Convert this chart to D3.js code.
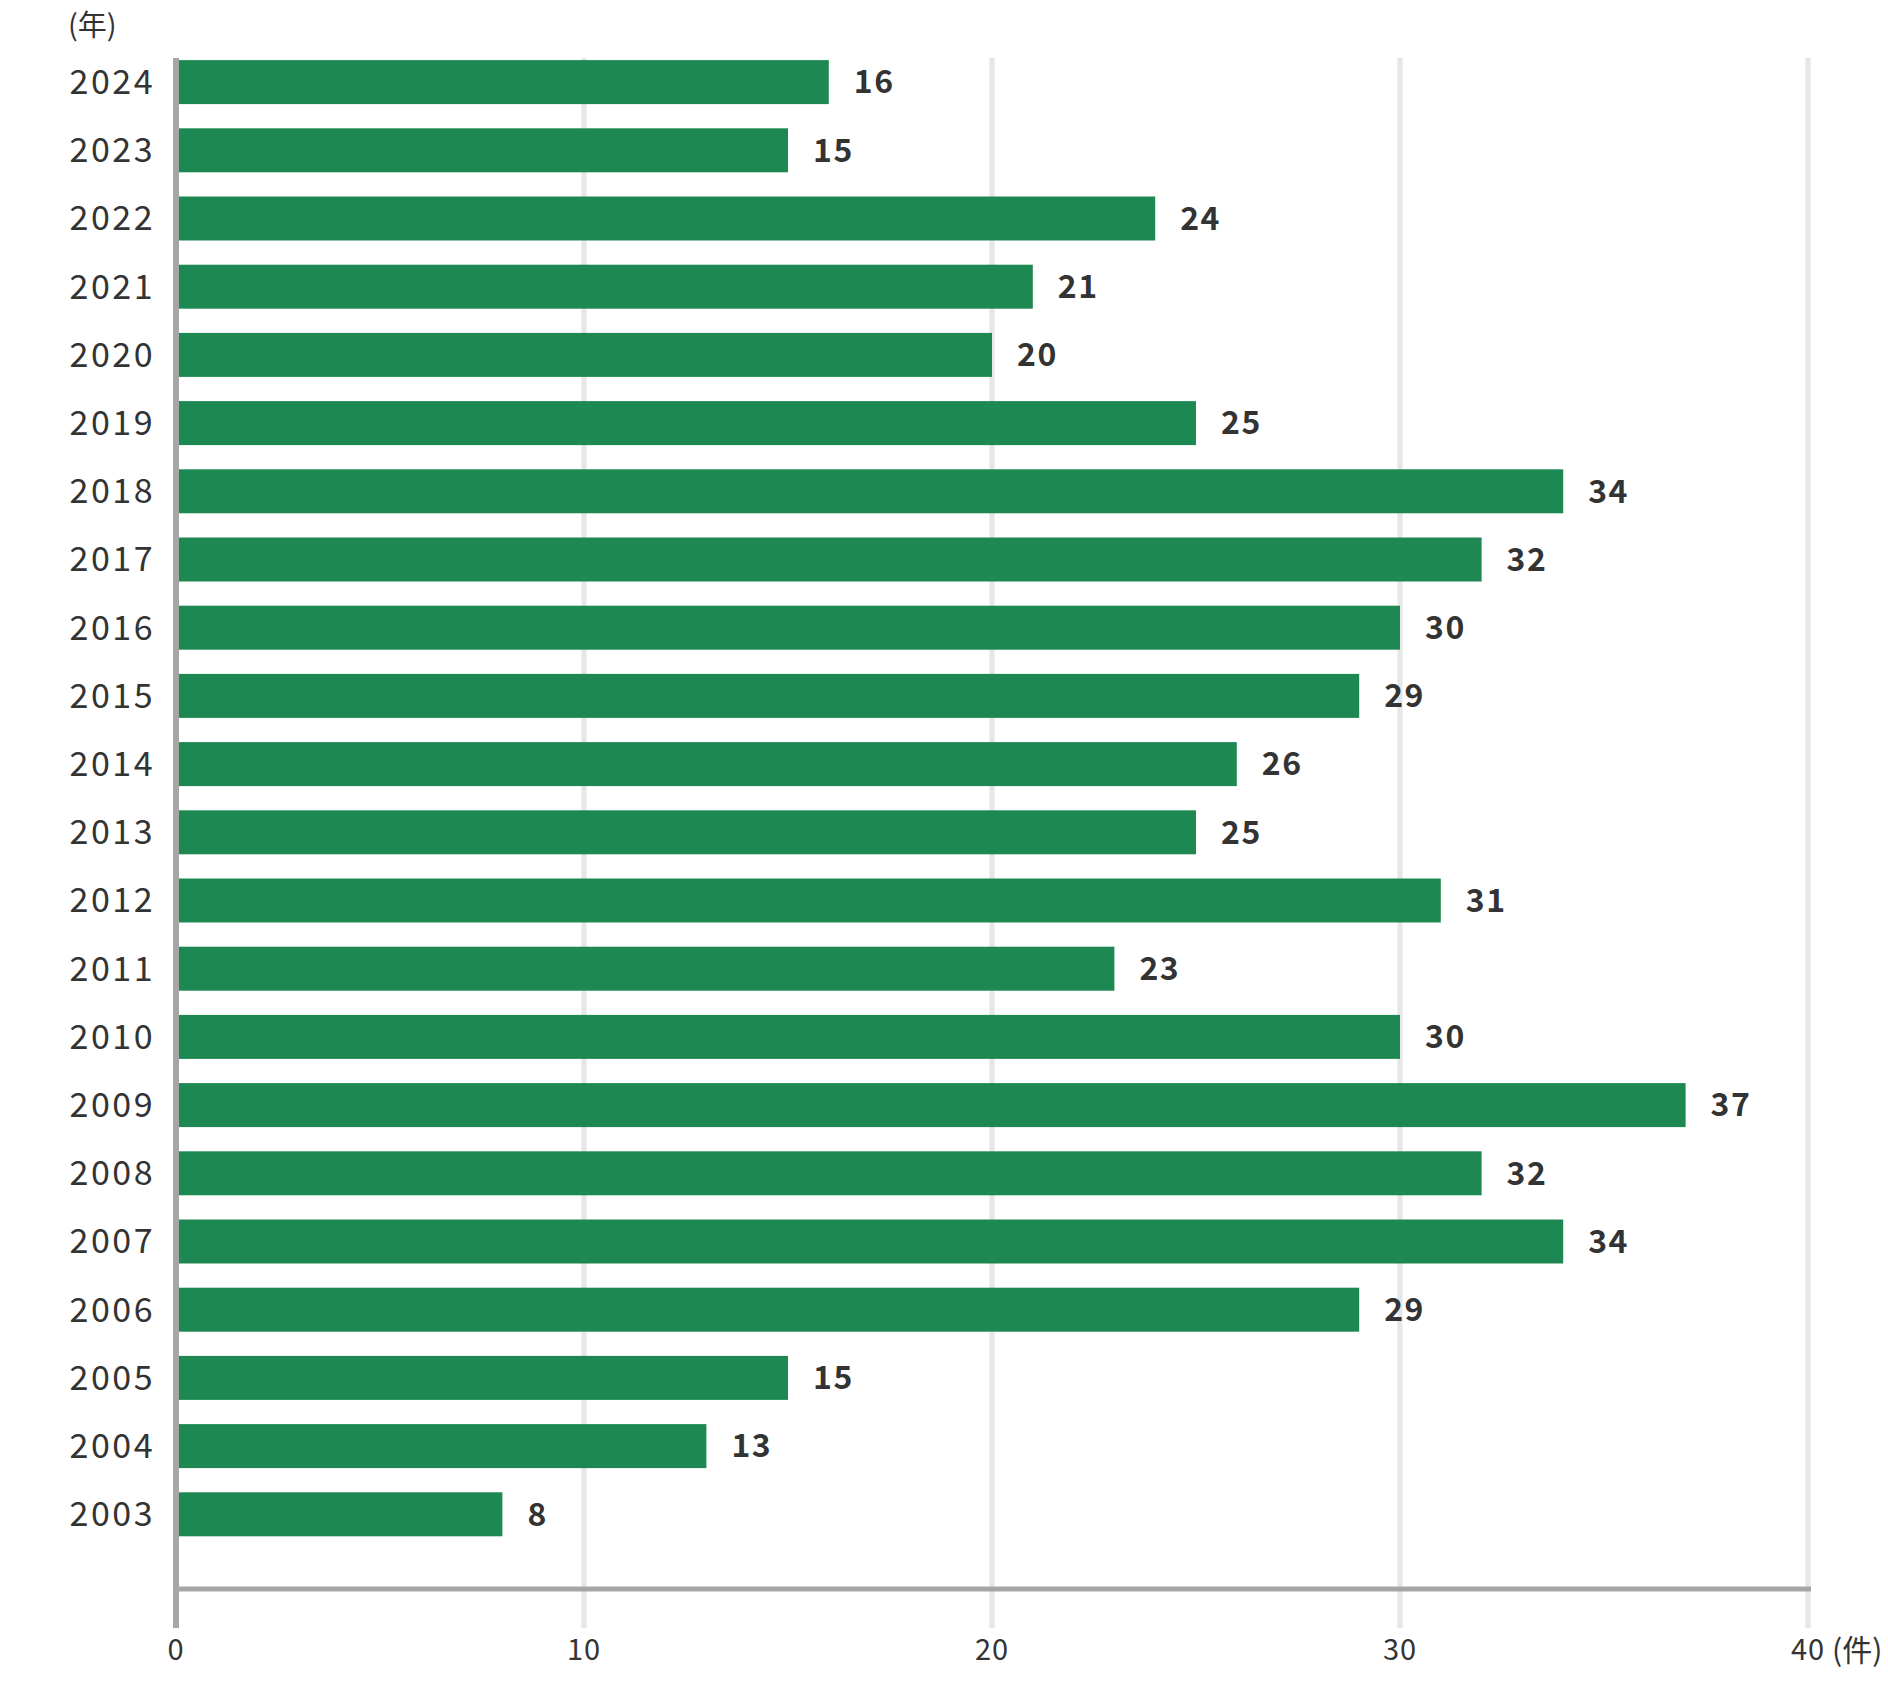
<!DOCTYPE html>
<html><head><meta charset="utf-8">
<script src="https://cdn.jsdelivr.net/npm/d3@7"></script>
<style>
html,body{margin:0;padding:0;background:#fff;}
svg{display:block;font-family:"Noto Sans CJK JP","Noto Sans",sans-serif;}
</style></head>
<body>
<svg id="chart" width="1888" height="1696"></svg>
<script>
const years = ["2024","2023","2022","2021","2020","2019","2018","2017","2016","2015","2014","2013","2012","2011","2010","2009","2008","2007","2006","2005","2004","2003"];
const counts = [16,15,24,21,20,25,34,32,30,29,26,25,31,23,30,37,32,34,29,15,13,8];
const xTicks = [0,10,20,30,40];
const yUnit = "(年)";
const xUnit = "(件)";

const svg = d3.select("#chart");
const x = d3.scaleLinear().domain([0,40]).range([176,1808]);
const y = d3.scaleBand().domain(years).range([48,48+22*68.2]).paddingInner(0.355).paddingOuter(0.1775);
const axisColor = "#a6a6a6", gridColor = "#e6e6e6", textColor = "#333333", barColor = "#1e8852";
const gridTop = 58, gridBottom = 1628, baseY = 1589;

// gridlines
svg.append("g").selectAll("line").data(xTicks.filter(d=>d>0)).join("line")
  .attr("x1",d=>x(d)).attr("x2",d=>x(d)).attr("y1",gridTop).attr("y2",gridBottom)
  .attr("stroke",gridColor).attr("stroke-width",5);

// bars
const data = years.map((yr,i)=>({yr, v:counts[i]}));
svg.append("g").selectAll("rect").data(data).join("rect")
  .attr("x",x(0)+3).attr("y",d=>y(d.yr))
  .attr("width",d=>x(d.v)-x(0)-3).attr("height",y.bandwidth())
  .attr("fill",barColor);

// value labels
svg.append("g").selectAll("text").data(data).join("text")
  .attr("x",d=>x(d.v)+25).attr("y",d=>y(d.yr)+y.bandwidth()/2)
  .attr("dy","0.35em").attr("font-size",32).attr("font-weight","bold")
  .attr("fill",textColor).attr("letter-spacing",1.5).text(d=>d.v);

// y labels
svg.append("g").selectAll("text").data(years).join("text")
  .attr("x",155).attr("y",d=>y(d)+y.bandwidth()/2)
  .attr("dy","0.35em").attr("text-anchor","end").attr("font-size",34)
  .attr("fill",textColor).attr("letter-spacing",2.5).text(d=>d);

// axes lines
svg.append("line").attr("x1",x(0)).attr("x2",x(0)).attr("y1",gridTop).attr("y2",gridBottom)
  .attr("stroke",axisColor).attr("stroke-width",6);
svg.append("line").attr("x1",x(0)-3).attr("x2",x(40)+3).attr("y1",baseY).attr("y2",baseY)
  .attr("stroke",axisColor).attr("stroke-width",5);

// x tick labels
svg.append("g").selectAll("text").data(xTicks).join("text")
  .attr("x",d=>x(d)).attr("y",1650).attr("dy","0.35em").attr("text-anchor","middle")
  .attr("font-size",29).attr("letter-spacing",1).attr("fill",textColor).text(d=>d);
svg.append("text").attr("x",x(40)+24).attr("y",1650).attr("dy","0.35em")
  .attr("font-size",30).attr("fill",textColor).text(xUnit);

// y unit
svg.append("text").attr("x",68).attr("y",36)
  .attr("font-size",29).attr("fill",textColor).text(yUnit);
</script>
</body></html>
